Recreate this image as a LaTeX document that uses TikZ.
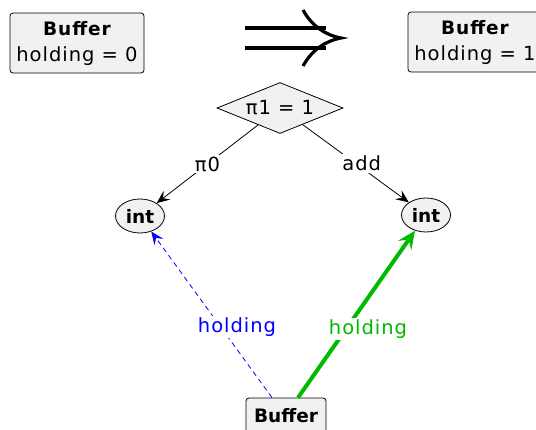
\documentclass[tikz,border=0pt]{standalone}
\usepackage{fontspec}
\setmainfont{DejaVu Sans}
\usetikzlibrary{shapes.geometric,arrows.meta}
\definecolor{boxfill}{RGB}{241,241,241}
\definecolor{hgreen}{RGB}{0,185,0}
\newcommand{\regfont}{\fontsize{19.5}{26}\selectfont\addfontfeature{LetterSpace=5}}
\newcommand{\boldfont}{\fontsize{18.5}{26}\selectfont\bfseries}
\begin{document}
\begin{tikzpicture}[x=1pt,y=-1pt,
  box/.style={draw, rounded corners=3pt, fill=boxfill, line width=0.8pt, align=center, inner sep=1pt, font=\regfont},
  intnode/.style={ellipse, draw, fill=boxfill, line width=0.8pt, minimum width=49pt, minimum height=34pt, inner sep=0pt, font=\boldfont},
  lbl/.style={fill=white, inner sep=2pt, font=\regfont},
  arr/.style={-{Stealth[length=13pt,width=11pt,inset=5pt]}, line width=0.8pt}
]
\useasboundingbox (0,0) rectangle (536,429);
\clip (0,0) rectangle (536,429);

\node[box, minimum width=134pt, minimum height=60pt] (b0) at (77,43) {{\boldfont Buffer}\\holding = 0};
\node[box, minimum width=134pt, minimum height=60pt] (b1) at (475,42) {{\boldfont Buffer}\\holding = 1};

% implication arrow
\draw[line width=4pt] (245,28) -- (326,28);
\draw[line width=4pt] (245,48) -- (326,48);
\draw[line width=3.2pt] (303,10) .. controls (312,26) and (325,35) .. (341,38) .. controls (325,41) and (312,50) .. (303,66);

\node[diamond, draw, fill=boxfill, line width=0.8pt, minimum width=126pt, minimum height=51pt, aspect=2.5, inner sep=0pt, font=\regfont] (d) at (280,108) {π1 = 1};

\node[intnode] (i0) at (140,216) {int};
\node[intnode] (i1) at (426,215) {int};

\node[box, minimum width=80pt, minimum height=36pt, font=\boldfont] (bb) at (286,416) {Buffer};

\draw[arr] (d) -- node[lbl, pos=0.5]{π0} (i0);
\draw[arr] (d) -- node[lbl, pos=0.5, xshift=6pt]{add} (i1);

\draw[blue, dashed, dash pattern=on 5pt off 4pt, -{Stealth[length=13pt,width=11pt,inset=5pt]}, line width=0.8pt] ([xshift=-14pt]bb.north) -- (i0);
\node[lbl, text=blue] (lb) at (237,327) {holding};

\draw[hgreen, line width=4pt, -{Stealth[length=18pt,width=16pt,inset=7pt]}] ([xshift=12pt]bb.north) -- (i1);
\node[lbl, text=hgreen] (lg) at (368,329) {holding};
\end{tikzpicture}
\end{document}
